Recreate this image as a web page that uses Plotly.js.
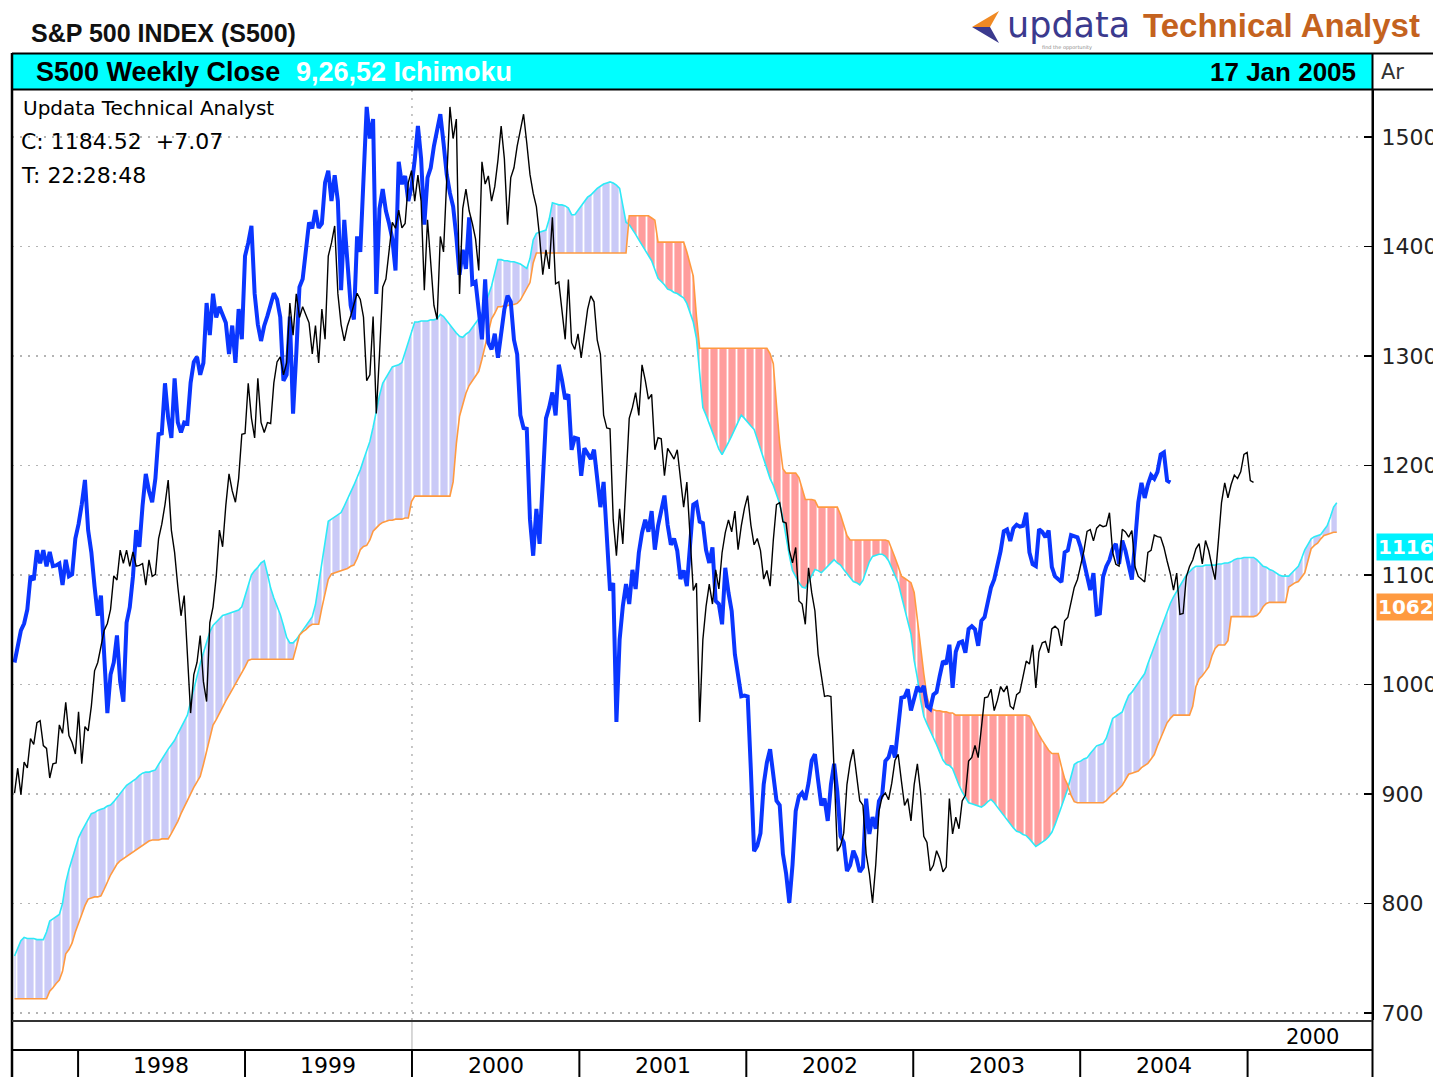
<!DOCTYPE html>
<html><head><meta charset="utf-8">
<script src="https://cdn.plot.ly/plotly-3.0.1.min.js"></script>
<style>html,body{margin:0;padding:0;background:#fff;overflow:hidden}#chart{width:1433px;height:1077px}</style>
</head><body><div id="chart"></div>
<script>
// ---- DATA (weekly, first week ending 1997-08-15) ----
const firstWeek = '1997-08-15';
const closes = [
900.81,923.54,899.47,929.05,923.91,950.51,945.22,965.03,966.98,944.16,941.64,914.62,927.51,928.35,963.09,955.40,983.79,953.39,946.78,936.46,
975.04,927.69,961.51,957.59,980.28,1012.46,1020.09,1034.21,1049.34,1055.69,1068.61,1099.16,1095.44,1122.70,1110.67,1122.72,1107.90,1121.00,1108.14,1108.73,1110.47,1090.82,1113.86,1098.84,1100.65,1133.20,1146.42,1164.33,1186.75,1140.80,1120.67,1089.45,1062.75,1081.24,1027.14,973.89,1009.06,1020.09,1044.75,1002.60,984.39,1056.42,1070.67,1098.67,1141.01,1125.72,1163.55,1192.33,1176.74,1166.46,1188.03,1228.54,1229.23,
1275.09,1243.26,1225.19,1279.64,1239.40,1230.13,1239.22,1238.33,1275.47,1294.59,1299.29,1282.80,1293.72,1348.35,1319.00,1356.85,1335.18,1345.00,1337.80,1330.29,1301.84,1327.75,1293.64,1342.84,1315.31,1391.22,1403.28,1418.78,1356.94,1328.72,1313.71,1327.68,1336.61,1348.27,1357.24,1351.66,1335.42,1277.36,1282.81,1336.02,1247.41,1301.65,1362.93,1370.23,1396.06,1422.00,1416.62,1433.30,1417.04,1421.03,1458.34,1469.25,
1441.47,1465.15,1441.36,1360.16,1424.37,1387.12,1346.09,1333.36,1409.17,1395.07,1464.47,1527.46,1498.58,1516.35,1356.56,1434.54,1452.43,1432.63,1420.96,1406.95,1378.02,1477.26,1456.95,1464.46,1441.48,1454.60,1478.90,1509.98,1480.19,1419.89,1462.93,1471.84,1491.72,1506.45,1520.77,1494.50,1465.81,1448.72,1436.51,1408.99,1374.17,1396.93,1379.58,1426.69,1365.98,1367.72,1341.77,1315.23,1369.89,1312.15,1305.95,1320.28,
1298.35,1318.32,1342.54,1354.95,1349.47,1314.76,1301.53,1245.86,1234.18,1233.42,1150.53,1117.58,1160.33,1128.43,1183.50,1242.98,1253.05,1266.61,1245.67,1291.96,1277.89,1260.67,1264.96,1214.36,1225.35,1224.38,1190.59,1215.68,1210.85,1205.82,1214.35,1190.16,1161.97,1184.93,1133.58,1085.78,1092.54,965.80,1040.94,1071.38,1091.65,1073.48,1104.61,1087.20,1120.31,1138.65,1150.34,1139.45,1158.31,1123.09,1144.89,1161.02,
1172.51,1145.60,1127.58,1133.28,1122.20,1096.22,1104.18,1089.84,1131.78,1164.31,1166.16,1148.70,1147.39,1122.73,1111.01,1125.17,1076.32,1073.43,1054.99,1106.59,1083.82,1067.14,1027.53,1007.27,989.14,989.82,989.03,921.39,847.75,852.84,864.24,908.64,928.77,940.86,916.07,893.92,889.81,845.39,827.37,800.58,835.32,884.39,897.65,900.96,894.74,909.83,930.55,936.31,912.23,889.48,895.76,875.40,
908.59,927.57,901.78,861.40,855.70,829.69,834.89,848.17,841.15,828.89,833.27,895.79,863.50,878.85,868.30,893.58,898.81,930.08,933.41,944.30,933.22,963.59,987.76,988.61,995.69,976.22,985.70,998.14,993.32,998.68,980.15,977.59,990.67,993.06,1008.01,1021.39,1018.63,1036.30,996.85,1029.85,1038.06,1039.32,1028.91,1050.71,1053.21,1050.35,1035.28,1058.20,1061.50,1074.14,1088.66,1095.89,
1108.48,1121.86,1139.83,1141.55,1131.13,1142.76,1145.81,1144.11,1144.94,1156.86,1120.57,1109.78,1108.06,1141.81,1139.32,1134.61,1140.60,1107.30,1098.70,1095.70,1093.56,1120.68,1122.50,1136.47,1135.02,1134.43,1125.38,1112.81,1101.39,1086.20,1101.72,1063.97,1064.80,1098.35,1107.77,1113.63,1123.92,1128.55,1110.11,1131.50,1122.14,1108.20,1095.74,1130.20,1166.17,1184.17,1170.34,1182.65,1191.17,1188.00,1194.20,1210.13,1211.92,
1186.19,1184.52
];
// cloud lines, plotted 26 weeks ahead (same weekly calendar, longer)
const senkouA = [
752,759,766,769,768,768,768,767,767,767, 774,784,786,788,790,800,819,831,841,851,
860,866,871,877,882,883,885,886,887,889, 890,893,897,901,905,908,910,912,914,917,
919,920,920,921,922,927,932,937,941,945, 949,955,961,966,972,984,996,1009,1019,1029,
1038,1048,1054,1057,1060,1063,1064,1065,1066,1067, 1068,1071,1081,1091,1100,1104,1107,1111,1113,1101,
1088,1079,1072,1064,1054,1043,1038,1038,1041,1045, 1049,1053,1058,1062,1073,1092,1111,1130,1149,1151,
1153,1155,1157,1163,1169,1175,1182,1189,1196,1205, 1214,1222,1235,1250,1264,1275,1280,1286,1290,1291,
1292,1294,1303,1313,1322,1331,1331,1332,1332,1332, 1333,1333,1334,1338,1336,1332,1328,1325,1321,1318,
1317,1320,1322,1326,1330,1333,1338,1347,1355,1364, 1376,1388,1388,1387,1387,1386,1386,1385,1384,1382,
1380,1389,1406,1412,1413,1414,1415,1425,1440,1439, 1438,1438,1437,1435,1429,1429,1433,1436,1440,1445,
1447,1450,1453,1455,1457,1458,1459,1458,1456,1453, 1438,1422,1420,1416,1411,1406,1401,1397,1392,1387,
1379,1371,1368,1365,1361,1360,1358,1357,1355,1353, 1348,1340,1331,1316,1281,1253,1246,1238,1231,1223,
1215,1210,1215,1221,1227,1233,1239,1246,1243,1239, 1236,1233,1224,1215,1205,1196,1188,1182,1174,1165,
1152,1133,1118,1104,1098,1093,1089,1088,1094,1100, 1105,1104,1102,1105,1108,1111,1114,1111,1109,1105,
1101,1097,1094,1093,1091,1095,1103,1112,1117,1118, 1119,1119,1117,1113,1106,1100,1093,1081,1069,1057,
1046,1022,1006,986,971,964,958,952,945,938, 931,927,926,923,915,908,902,897,892,891,
890,889,888,890,893,895,892,888,884,880, 876,872,869,866,865,863,862,859,855,852,
854,856,858,861,865,872,880,888,896,905, 916,927,929,930,932,933,937,941,944,945,
946,951,961,969,971,973,975,983,990,993, 997,1001,1005,1010,1019,1027,1034,1043,1051,1058,
1066,1074,1080,1085,1090,1096,1100,1103,1106,1108, 1108,1108,1109,1109,1109,1109,1110,1110,1111,1111,
1112,1114,1115,1115,1116,1116,1116,1116,1114,1111, 1108,1107,1105,1104,1102,1100,1099,1099,1099,1102,
1105,1108,1115,1123,1128,1133,1135,1136,1137,1141, 1145,1153,1162,1166
];
const senkouB = [
713,713,713,713,713,713,713,713,713,713, 713,720,723,727,730,738,754,758,764,774,
783,790,798,804,805,806,806,807,813,820, 826,831,836,839,841,843,845,847,849,851,
853,855,857,858,858,858,859,859,859,864, 869,875,882,888,895,901,906,911,916,927,
939,952,963,968,974,980,985,990,995,1000, 1006,1011,1016,1022,1023,1023,1023,1023,1023,1023,
1023,1023,1023,1023,1023,1023,1023,1023,1034,1045, 1048,1050,1053,1055,1055,1055,1070,1084,1096,1101,
1102,1103,1104,1105,1106,1108,1109,1115,1123,1126, 1127,1132,1140,1143,1146,1148,1149,1150,1150,1151,
1151,1151,1152,1152,1167,1172,1172,1172,1172,1172, 1172,1172,1172,1172,1172,1172,1172,1185,1220,1245,
1256,1266,1273,1277,1281,1286,1297,1309,1321,1334, 1339,1345,1345,1346,1346,1347,1347,1348,1351,1356,
1361,1367,1385,1394,1394,1394,1394,1394,1394,1394, 1394,1394,1394,1394,1394,1394,1394,1394,1394,1394,
1394,1394,1394,1394,1394,1394,1394,1394,1394,1394, 1394,1394,1428,1428,1428,1428,1428,1428,1428,1426,
1424,1404,1404,1404,1404,1404,1404,1404,1404,1404, 1395,1384,1373,1336,1307,1307,1307,1307,1307,1307,
1307,1307,1307,1307,1307,1307,1307,1307,1307,1307, 1307,1307,1307,1307,1307,1307,1302,1293,1255,1220,
1197,1193,1193,1193,1193,1189,1178,1169,1169,1169, 1168,1162,1162,1162,1162,1162,1162,1162,1155,1145,
1136,1132,1132,1132,1132,1132,1132,1132,1132,1132, 1132,1132,1132,1131,1124,1116,1108,1099,1097,1095,
1093,1084,1059,1033,1010,989,979,977,976,976, 975,975,974,974,972,972,972,972,972,972,
972,972,972,972,972,972,972,972,972,972, 972,972,972,972,972,972,972,971,965,959,
954,949,944,940,937,937,937,925,914,908, 899,893,892,892,892,892,892,892,892,892,
892,894,897,900,902,905,908,913,918,919, 920,921,924,926,928,932,936,944,951,958,
965,969,972,972,972,972,972,972,980,998, 1005,1008,1012,1016,1026,1033,1036,1036,1036,1040,
1062,1062,1062,1062,1062,1062,1062,1062,1063,1066, 1071,1074,1075,1075,1075,1075,1075,1075,1089,1091,
1093,1094,1098,1102,1113,1124,1127,1129,1133,1136, 1137,1138,1139,1139
];
const lagWeeks = 26;
const yTicks = [700,800,900,1000,1100,1200,1300,1400,1500];
const yearLabels = ['1998','1999','2000','2001','2002','2003','2004'];
const yearStarts = ['1998-01-01','1999-01-01','2000-01-01','2001-01-01','2002-01-01','2003-01-01','2004-01-01','2005-01-01'];
const yearMids = ['1998-07-02','1999-07-02','2000-07-02','2001-07-02','2002-07-02','2003-07-02','2004-07-02'];

// ---- build weekly calendar ----
function weekDate(i){const d=new Date(Date.UTC(1997,7,15));d.setUTCDate(d.getUTCDate()+7*i);return d.toISOString().slice(0,10);}
const cloudDates = senkouA.map((_,i)=>weekDate(i));
const closeDates = cloudDates.slice(0, closes.length);
const lagDates = closeDates.slice(0, closes.length - lagWeeks);
const lagValues = closes.slice(lagWeeks);
const cloudTop = senkouA.map((a,i)=>Math.max(a, senkouB[i]));

const W=1433,H=1077;
const px=x=>x/W, py=y=>1-y/H;

const LAV='#CACAF7', SAL='#FF9C9C', CYAN='#2EEAF7', ORANGE='#FF9A40';
const traces = [
 {x:cloudDates,y:senkouB,type:'scatter',mode:'lines',line:{width:0},hoverinfo:'skip',showlegend:false},
 {x:cloudDates,y:cloudTop,type:'scatter',mode:'lines',line:{width:0},fill:'tonexty',fillcolor:LAV,
  fillpattern:{shape:'|',fgcolor:'#ffffff',bgcolor:LAV,size:9,solidity:0.2,fillmode:'replace'},hoverinfo:'skip',showlegend:false},
 {x:cloudDates,y:senkouA,type:'scatter',mode:'lines',line:{width:0},hoverinfo:'skip',showlegend:false},
 {x:cloudDates,y:cloudTop,type:'scatter',mode:'lines',line:{width:0},fill:'tonexty',fillcolor:SAL,
  fillpattern:{shape:'|',fgcolor:'#ffffff',bgcolor:SAL,size:9,solidity:0.2,fillmode:'replace'},hoverinfo:'skip',showlegend:false},
 {x:cloudDates,y:senkouA,type:'scatter',mode:'lines',line:{color:CYAN,width:1.6},showlegend:false},
 {x:cloudDates,y:senkouB,type:'scatter',mode:'lines',line:{color:ORANGE,width:1.6},showlegend:false},
 {x:lagDates,y:lagValues,type:'scatter',mode:'lines',line:{color:'#0A36FF',width:4},showlegend:false},
 {x:closeDates,y:closes,type:'scatter',mode:'lines',line:{color:'#000000',width:1.4},showlegend:false}
];

const shapes = [
 {type:'rect',xref:'paper',yref:'paper',x0:px(12),x1:px(1372),y0:py(89),y1:py(54),fillcolor:'#00FFFF',line:{width:0},layer:'below'},
 {type:'line',xref:'paper',yref:'paper',x0:px(12),x1:1,y0:py(53.5),y1:py(53.5),line:{color:'#000',width:2}},
 {type:'line',xref:'paper',yref:'paper',x0:px(12),x1:1,y0:py(89.5),y1:py(89.5),line:{color:'#000',width:2}},
 {type:'line',xref:'paper',yref:'paper',x0:px(12),x1:px(12),y0:py(53),y1:0,line:{color:'#000',width:2.5}},
 {type:'line',xref:'paper',yref:'paper',x0:px(1372.5),x1:px(1372.5),y0:py(53),y1:0,line:{color:'#000',width:2}},
 {type:'line',xref:'paper',yref:'paper',x0:px(12),x1:px(1372),y0:py(1021),y1:py(1021),line:{color:'#333',width:2}},
 {type:'line',xref:'paper',yref:'paper',x0:px(12),x1:px(1372),y0:py(1050),y1:py(1050),line:{color:'#000',width:2}},
 {type:'line',xref:'x',yref:'paper',x0:'2000-01-01',x1:'2000-01-01',y0:py(1022),y1:py(1049),line:{color:'#b0b0b0',width:1}},
 {type:'line',xref:'x',yref:'paper',x0:'2000-01-01',x1:'2000-01-01',y0:py(1020),y1:py(90),line:{color:'#b4b4b4',width:1.5,dash:'2px,6px'},layer:'below'},
 // logo arrow
 {type:'path',xref:'paper',yref:'paper',path:`M ${px(972)} ${py(27)} L ${px(999)} ${py(11)} L ${px(990)} ${py(27)} Z`,fillcolor:'#F08A24',line:{width:0}},
 {type:'path',xref:'paper',yref:'paper',path:`M ${px(972)} ${py(27)} L ${px(990)} ${py(27)} L ${px(999)} ${py(43)} Z`,fillcolor:'#3B3A8E',line:{width:0}}
];
yearStarts.forEach(d=>shapes.push({type:'line',xref:'x',yref:'paper',x0:d,x1:d,y0:py(1051),y1:0,line:{color:'#000',width:2}}));

const F='DejaVu Sans';
const annotations = [
 {xref:'paper',yref:'paper',x:px(29),y:py(33),xanchor:'left',yanchor:'middle',text:'<b>S&amp;P 500 INDEX (S500)</b>',showarrow:false,font:{family:'Liberation Sans',size:25,color:'#111'}},
 {xref:'paper',yref:'paper',x:px(34),y:py(71.5),xanchor:'left',yanchor:'middle',text:'<b>S500 Weekly Close</b>',showarrow:false,font:{family:'Liberation Sans',size:27,color:'#000'}},
 {xref:'paper',yref:'paper',x:px(294),y:py(71.5),xanchor:'left',yanchor:'middle',text:'<b>9,26,52 Ichimoku</b>',showarrow:false,font:{family:'Liberation Sans',size:27,color:'#ffffff'}},
 {xref:'paper',yref:'paper',x:px(1358),y:py(71.5),xanchor:'right',yanchor:'middle',text:'<b>17 Jan 2005</b>',showarrow:false,font:{family:'Liberation Sans',size:26,color:'#000'}},
 {xref:'paper',yref:'paper',x:px(1379),y:py(72),xanchor:'left',yanchor:'middle',text:'Ar',showarrow:false,font:{family:F,size:21,color:'#333'}},
 {xref:'paper',yref:'paper',x:px(1005),y:py(25),xanchor:'left',yanchor:'middle',text:'updata',showarrow:false,font:{family:F,size:35,color:'#3B3A8E'}},
 {xref:'paper',yref:'paper',x:px(1040),y:py(48),xanchor:'left',yanchor:'middle',text:'find the opportunity',showarrow:false,font:{family:F,size:5,color:'#888'}},
 {xref:'paper',yref:'paper',x:px(1141),y:py(25),xanchor:'left',yanchor:'middle',text:'<b>Technical Analyst</b>',showarrow:false,font:{family:'Liberation Sans',size:33,color:'#C4621E'}},
 {xref:'paper',yref:'paper',x:px(21),y:py(108),xanchor:'left',yanchor:'middle',text:'Updata Technical Analyst',showarrow:false,font:{family:F,size:20,color:'#000'}},
 {xref:'paper',yref:'paper',x:px(19),y:py(141),xanchor:'left',yanchor:'middle',text:'C: 1184.52  +7.07',showarrow:false,font:{family:F,size:22,color:'#000'}},
 {xref:'paper',yref:'paper',x:px(19),y:py(175),xanchor:'left',yanchor:'middle',text:'T: 22:28:48',showarrow:false,font:{family:F,size:22,color:'#000'}},
 {xref:'paper',yref:'paper',x:px(1341),y:py(1037),xanchor:'right',yanchor:'middle',text:'2000',showarrow:false,font:{family:F,size:21,color:'#000'}},
 {xref:'paper',yref:'y',x:px(1376),y:senkouA[closes.length-1],yshift:10,xanchor:'left',yanchor:'middle',text:'<b>'+senkouA[closes.length-1]+'</b>',showarrow:false,bgcolor:'#00F2FF',borderpad:1,font:{family:F,size:20,color:'#fff'}},
 {xref:'paper',yref:'y',x:px(1376),y:senkouB[closes.length-1],yshift:10,xanchor:'left',yanchor:'middle',text:'<b>'+senkouB[closes.length-1]+'</b>',showarrow:false,bgcolor:'#FF9A40',borderpad:1,font:{family:F,size:20,color:'#fff'}}
];
yearLabels.forEach((t,i)=>annotations.push({xref:'x',yref:'paper',x:yearMids[i],y:py(1065),xanchor:'center',yanchor:'middle',text:t,showarrow:false,font:{family:F,size:22,color:'#000'}}));

const layout = {
 width:W,height:H,margin:{l:0,r:0,t:0,b:0},paper_bgcolor:'#fff',plot_bgcolor:'#fff',hovermode:false,showlegend:false,
 xaxis:{domain:[px(12),px(1372)],type:'date',range:['1997-08-09 12:00','2005-09-30'],showgrid:false,zeroline:false,showticklabels:false,ticks:'',showline:false,fixedrange:true},
 yaxis:{domain:[py(1020),py(90)],range:[693.6,1542.9],side:'right',tickvals:yTicks,ticktext:yTicks.map(String),ticks:'inside',ticklen:8,tickwidth:1.5,tickcolor:'#000',
  showline:true,linecolor:'#000',linewidth:2,showgrid:true,gridcolor:'#b4b4b4',gridwidth:1.5,griddash:'2px,6px',zeroline:false,
  tickfont:{family:F,size:22,color:'#222'},ticklabelstandoff:3,fixedrange:true},
 shapes:shapes,annotations:annotations
};
Plotly.newPlot('chart',traces,layout,{staticPlot:true,displayModeBar:false});
</script></body></html>
